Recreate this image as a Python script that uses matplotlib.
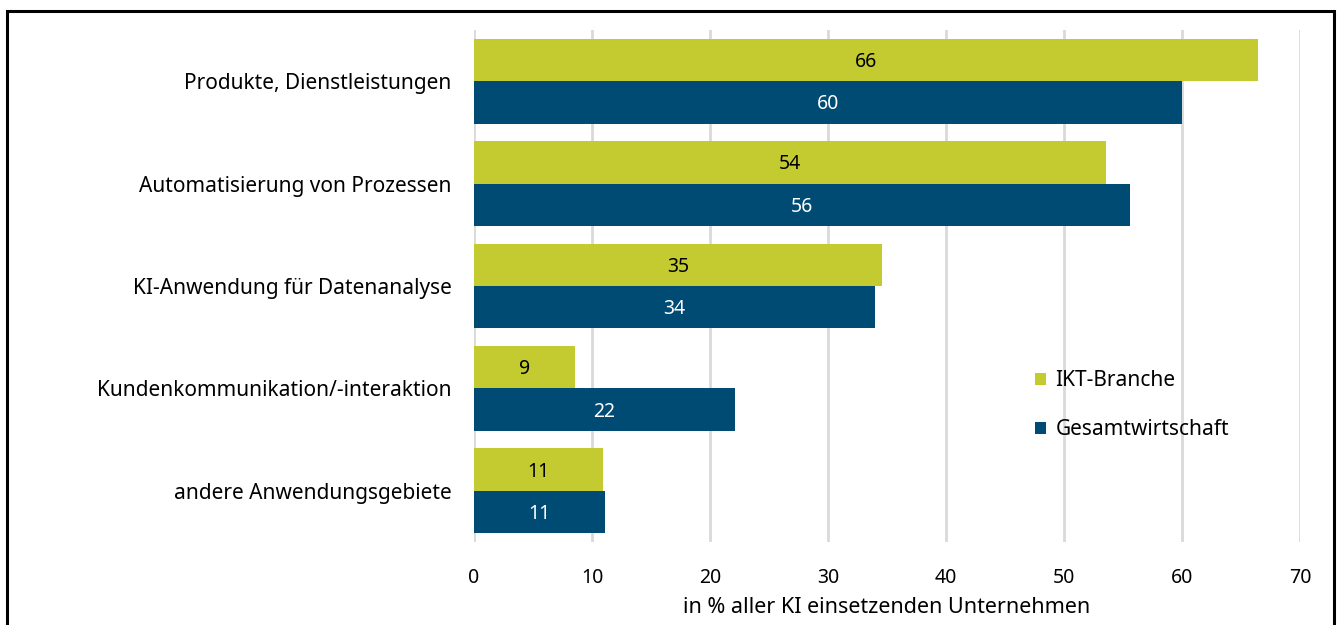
import matplotlib
matplotlib.use("Agg")
import matplotlib.pyplot as plt
from matplotlib.patches import Rectangle
import numpy as np

categories = ["Produkte, Dienstleistungen", "Automatisierung von Prozessen",
              "KI-Anwendung für Datenanalyse", "Kundenkommunikation/-interaktion",
              "andere Anwendungsgebiete"]
ikt = [66.4, 53.6, 34.6, 8.6, 10.9]
gesamt = [60.0, 55.6, 34.0, 22.1, 11.1]
ikt_labels = ["66", "54", "35", "9", "11"]
gesamt_labels = ["60", "56", "34", "22", "11"]
series_names = ["IKT-Branche", "Gesamtwirtschaft"]
xticks = [0, 10, 20, 30, 40, 50, 60, 70]
xlabel = "in % aller KI einsetzenden Unternehmen"

plt.rcParams['font.family'] = ['Noto Sans', 'DejaVu Sans']
YEL = "#C3CB31"
BLU = "#004B73"

fig = plt.figure(figsize=(13.4, 6.25), dpi=100)
ax = fig.add_axes([474/1340, 1-542/625, (1300-474)/1340, (542-30)/625])

y = np.arange(len(categories))
h = 0.415
b1 = ax.barh(y - h/2, ikt, height=h, color=YEL, label=series_names[0], zorder=3)
b2 = ax.barh(y + h/2, gesamt, height=h, color=BLU, label=series_names[1], zorder=3)
for bar, lab in zip(b1, ikt_labels):
    ax.text(bar.get_width()/2, bar.get_y()+bar.get_height()/2 + 0.02, lab,
            ha='center', va='center', fontsize=14, color='black', zorder=4)
for bar, lab in zip(b2, gesamt_labels):
    ax.text(bar.get_width()/2, bar.get_y()+bar.get_height()/2 + 0.02, lab,
            ha='center', va='center', fontsize=14, color='white', zorder=4)

ax.set_xlim(0, 70)
ax.set_ylim(len(categories)-0.5, -0.5)
ax.set_xticks(xticks)
ax.set_yticks(y)
ax.set_yticklabels(categories, fontsize=15)
ax.tick_params(axis='both', length=0)
ax.tick_params(axis='x', labelsize=14, pad=19)
ax.tick_params(axis='y', pad=16)
ax.grid(axis='x', color='#D9D9D9', linewidth=2, zorder=0)
for s in ax.spines.values():
    s.set_visible(False)
ax.set_xlabel(xlabel, fontsize=15.5, labelpad=6)

ax.legend(loc='center left', bbox_to_anchor=(0.656, 0.267), frameon=False,
          fontsize=15, handlelength=0.55, handleheight=0.55, handletextpad=0.45,
          labelspacing=1.35)

fig.patches.append(Rectangle((7/1340, -0.02), (1334-7)/1340, 1.02-11/625,
                             transform=fig.transFigure, fill=False,
                             edgecolor='black', linewidth=2.2))
fig.savefig("out.png", dpi=100, facecolor='white')
